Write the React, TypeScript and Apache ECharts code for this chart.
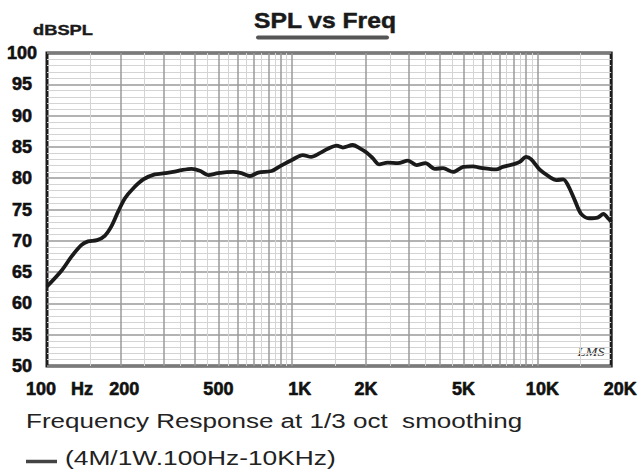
import React, { useEffect, useRef } from "react";
import * as echarts from "echarts";

// ---- data ----
const freqHz = [100, 115, 126, 138, 147, 160, 172, 183, 195, 208, 225, 247, 275, 302, 327, 354, 389, 420, 454, 498, 574, 621, 672, 727, 824, 890, 1006, 1104, 1195, 1296, 1398, 1518, 1609, 1765, 1880, 2010, 2130, 2265, 2448, 2700, 2967, 3210, 3492, 3820, 4122, 4530, 4980, 5480, 5800, 6790, 7225, 7940, 8470, 9000, 9440, 10200, 11210, 11950, 12740, 13320, 14200, 15080, 16250, 17600, 18600, 19400, 20000];
const splDb = [62.7, 65.3, 67.5, 69.3, 69.9, 70.1, 70.8, 72.3, 74.65, 76.8, 78.4, 79.8, 80.6, 80.8, 81.0, 81.3, 81.5, 81.2, 80.5, 80.8, 81.0, 80.8, 80.35, 80.9, 81.15, 81.9, 83.0, 83.7, 83.4, 84.0, 84.7, 85.2, 84.9, 85.3, 84.8, 84.1, 83.2, 82.2, 82.5, 82.4, 82.8, 82.1, 82.4, 81.5, 81.6, 81.0, 81.8, 81.9, 81.7, 81.4, 81.8, 82.2, 82.6, 83.4, 83.0, 81.4, 80.2, 79.7, 79.8, 78.9, 76.5, 74.3, 73.6, 73.7, 74.3, 73.6, 73.05];

const xTickValues = [100, 200, 500, 1000, 2000, 5000, 10000, 20000];
const xTickLabels = ["100   Hz", "200", "500", "1K", "2K", "5K", "10K", "20K"];

const gridMajorFreqs = [200, 300, 400, 500, 600, 700, 800, 900, 1000, 2000, 3000, 4000, 5000, 6000, 7000, 8000, 9000, 10000];
const gridMinorFreqs = [150, 250, 350, 450, 550, 650, 750, 850, 950, 1500, 2500, 3500, 4500, 5500, 6500, 7500, 8500, 9500, 15000];

const titleText = "SPL vs Freq";
const yAxisName = "dBSPL";
const captionText = "Frequency Response at 1/3 oct  smoothing";
const legendText = "(4M/1W.100Hz-10KHz)";

// label nudges (styling only)
const labelPadLeft: Record<string, number> = { "100": 25, "200": 7, "1000": 15, "10000": 10, "20000": 18 };

export default function App() {
  const ref = useRef<HTMLDivElement>(null);

  useEffect(() => {
    if (!ref.current) return;
    const chart = echarts.init(ref.current, null, { renderer: "svg" });
    const labelFont = {
      fontSize: 18,
      fontWeight: "bold" as const,
      fontFamily: "Liberation Sans, Arial, sans-serif",
      color: "#111",
      textBorderColor: "#111",
      textBorderWidth: 0.6,
    };
    const rich: Record<string, any> = {};
    xTickValues.forEach((v) => {
      rich["p" + v] = { ...labelFont, padding: [0, 0, 0, labelPadLeft[String(v)] || 0] };
    });

    const option: any = {
      animation: false,
      backgroundColor: "#ffffff",
      grid: {
        left: 47,
        top: 53,
        width: 565,
        height: 313,
        show: true,
        borderColor: "#1c1c1c",
        borderWidth: 3,
        backgroundColor: "transparent",
      },
      xAxis: {
        type: "log",
        logBase: 10,
        min: 100,
        max: 20000,
        axisLine: { show: false },
        axisTick: { show: false },
        splitLine: { show: false },
        axisLabel: {
          customValues: xTickValues,
          margin: 14,
          ...labelFont,
          formatter: (value: number) => {
            const i = xTickValues.findIndex((t) => Math.abs(t - value) / t < 1e-6);
            if (i < 0) return "";
            return "{p" + xTickValues[i] + "|" + xTickLabels[i] + "}";
          },
          rich,
        },
      },
      yAxis: {
        type: "value",
        min: 50,
        max: 100,
        interval: 5,
        axisLine: { show: false },
        axisTick: { show: false },
        axisLabel: { ...labelFont, align: "center", margin: 25, padding: [3, 0, 0, 0] },
        splitLine: { show: true, lineStyle: { color: "#9a9a9a", width: 1.5 } },
        minorTick: { show: false, splitNumber: 5 },
        minorSplitLine: { show: true, lineStyle: { color: "#d4d4d4", width: 1 } },
      },
      series: [
        {
          type: "line",
          data: [],
          z: 1,
          silent: true,
          markLine: {
            silent: true,
            symbol: "none",
            animation: false,
            label: { show: false },
            data: [
              ...gridMinorFreqs.map((f) => ({ xAxis: f, lineStyle: { color: "#d4d4d4", width: 1, type: "solid" } })),
              ...gridMajorFreqs.map((f) => ({ xAxis: f, lineStyle: { color: "#9a9a9a", width: 1.5, type: "solid" } })),
            ],
          },
        },
        {
          type: "line",
          z: 5,
          data: freqHz.map((f, i) => [f, splDb[i]]),
          smooth: 0.3,
          showSymbol: false,
          lineStyle: { color: "#1a1a1a", width: 3.8 },
        },
      ],
      graphic: [
        {
          type: "text",
          x: 325,
          y: 20,
          scaleX: 1.12,
          style: {
            text: titleText,
            font: "bold 22px 'Liberation Sans', Arial, sans-serif",
            fill: "#1a1a1a",
            stroke: "#1a1a1a",
            lineWidth: 0.5,
            textAlign: "center",
            textVerticalAlign: "middle",
          },
        },
        {
          type: "line",
          shape: { x1: 258, y1: 37.5, x2: 387, y2: 37.5 },
          style: { stroke: "#555", lineWidth: 4, lineCap: "round" },
        },
        {
          type: "text",
          x: 33,
          y: 30,
          scaleX: 1.22,
          style: {
            text: yAxisName,
            font: "bold 15px 'Liberation Sans', Arial, sans-serif",
            fill: "#1a1a1a",
            stroke: "#1a1a1a",
            lineWidth: 0.4,
            textAlign: "left",
            textVerticalAlign: "middle",
          },
        },
        {
          type: "text",
          x: 591,
          y: 352,
          scaleX: 1.2,
          style: {
            text: "LMS",
            font: "italic 12px 'Liberation Serif', serif",
            fill: "#333",
            textAlign: "center",
            textVerticalAlign: "middle",
          },
        },
        {
          type: "text",
          x: 26,
          y: 421,
          scaleX: 1.24,
          style: {
            text: captionText,
            font: "21px 'Liberation Sans', Arial, sans-serif",
            fill: "#222",
            textAlign: "left",
            textVerticalAlign: "middle",
          },
        },
        {
          type: "line",
          shape: { x1: 26, y1: 461.5, x2: 57, y2: 461.5 },
          style: { stroke: "#444", lineWidth: 3.5 },
        },
        {
          type: "text",
          x: 65,
          y: 458,
          scaleX: 1.255,
          style: {
            text: legendText,
            font: "21px 'Liberation Sans', Arial, sans-serif",
            fill: "#222",
            textAlign: "left",
            textVerticalAlign: "middle",
          },
        },
      ],
    };
    chart.setOption(option);
    return () => chart.dispose();
  }, []);

  return (
    <div
      ref={ref}
      style={{ position: "absolute", left: 0, top: 0, width: 640, height: 473, background: "#fff" }}
    />
  );
}
